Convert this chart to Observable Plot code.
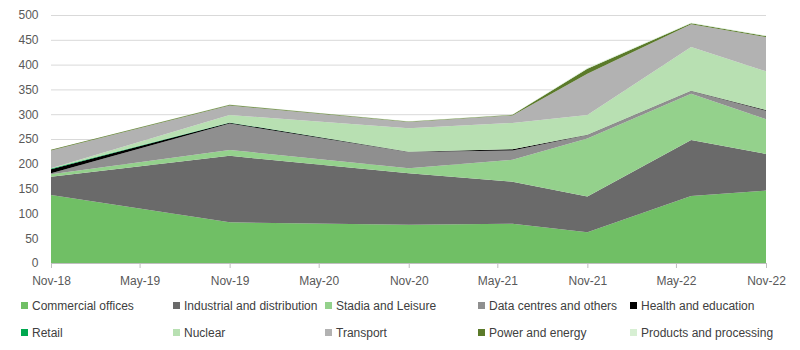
<!DOCTYPE html>
<html><head><meta charset="utf-8">
<script src="https://cdn.jsdelivr.net/npm/d3@7"></script>
<script src="https://cdn.jsdelivr.net/npm/@observablehq/plot@0.6"></script>
<style>
body{margin:0;background:#fff;font-family:"Liberation Sans",Arial,sans-serif;}
#legend{position:relative;height:60px;width:800px;font-size:12px;color:#404040;}
.item{position:absolute;display:flex;align-items:center;white-space:nowrap;height:14px;}
.sw{width:7px;height:7px;margin-right:4px;}
</style></head><body><div id="chart"></div><div id="legend"></div>
<script>
const dates = ["2018-11-01","2019-11-01","2020-11-01","2021-06-01","2021-11-01","2022-06-01","2022-11-01"];
const tickDates = ["2018-11-01","2019-05-01","2019-11-01","2020-05-01","2020-11-01","2021-05-01","2021-11-01","2022-05-01","2022-11-01"];
const yTicks = [0,50,100,150,200,250,300,350,400,450,500];
const sectors = ["Commercial offices","Industrial and distribution","Stadia and Leisure","Data centres and others","Health and education","Retail","Nuclear","Transport","Power and energy","Products and processing"];
const colors = ["#70bf65","#6a6a6a","#94d18c","#8f8f8f","#000000","#00a84f","#b8e0b2","#b2b2b2","#5b7a2a","#d7efd3"];
const commercial = [137, 82, 77, 79, 62, 135, 146];
const industrial = [37, 134, 104, 85, 72, 113, 74];
const stadia = [5, 12, 10, 44, 117, 93, 70];
const dataCentres = [2, 53, 33, 19, 7, 6, 17];
const health = [8, 2, 0.5, 2.5, 0.5, 0.5, 1.5];
const retail = [1.5, 0.5, 0, 0, 0, 0, 0];
const nuclear = [0.5, 15, 47, 53, 40, 88, 78];
const transport = [36, 19, 13, 15, 83, 46, 69];
const power = [1.2, 1.5, 1, 1.2, 10, 2, 2];
const products = [0, 0.5, 0.5, 0.5, 1.5, 1, 1];

const series = [commercial, industrial, stadia, dataCentres, health, retail, nuclear, transport, power, products];
const long = [];
series.forEach((vals, i) => vals.forEach((v, j) => long.push({sector: sectors[i], date: new Date(dates[j]), value: v})));

const chart = Plot.plot({
  width: 800, height: 290,
  marginLeft: 51, marginRight: 34, marginTop: 15, marginBottom: 27,
  style: {fontFamily: "'Liberation Sans', Arial, sans-serif", fontSize: "12px", background: "#fff"},
  x: {type: "utc", domain: [new Date(tickDates[0]), new Date(tickDates[tickDates.length-1])]},
  y: {domain: [0, 500]},
  color: {domain: sectors, range: colors},
  marks: [
    Plot.gridY(yTicks, {stroke: "#d9d9d9", strokeOpacity: 1}),
    Plot.areaY(long, {x: "date", y: "value", z: "sector", fill: "sector", order: sectors, curve: "linear"}),
    Plot.ruleY([0], {stroke: "#bfbfbf"}),
    Plot.axisX(tickDates.map(d => new Date(d)), {tickFormat: d3.utcFormat("%b-%y"), tickSize: 5, tickPadding: 8, stroke: "#bfbfbf", fill: "#595959", label: null}),
    Plot.axisY(yTicks, {tickSize: 0, tickPadding: 13, fill: "#595959", label: null})
  ]
});
document.getElementById("chart").appendChild(chart);

const cols = [21, 173, 325, 478, 630];
const rows = [8.7, 35.7];
const legend = document.getElementById("legend");
sectors.forEach((s, i) => {
  const el = document.createElement("div");
  el.className = "item";
  el.style.left = cols[i % 5] + "px";
  el.style.top = rows[Math.floor(i / 5)] + "px";
  el.innerHTML = `<span class="sw" style="background:${colors[i]}"></span><span>${s}</span>`;
  legend.appendChild(el);
});
</script></body></html>
